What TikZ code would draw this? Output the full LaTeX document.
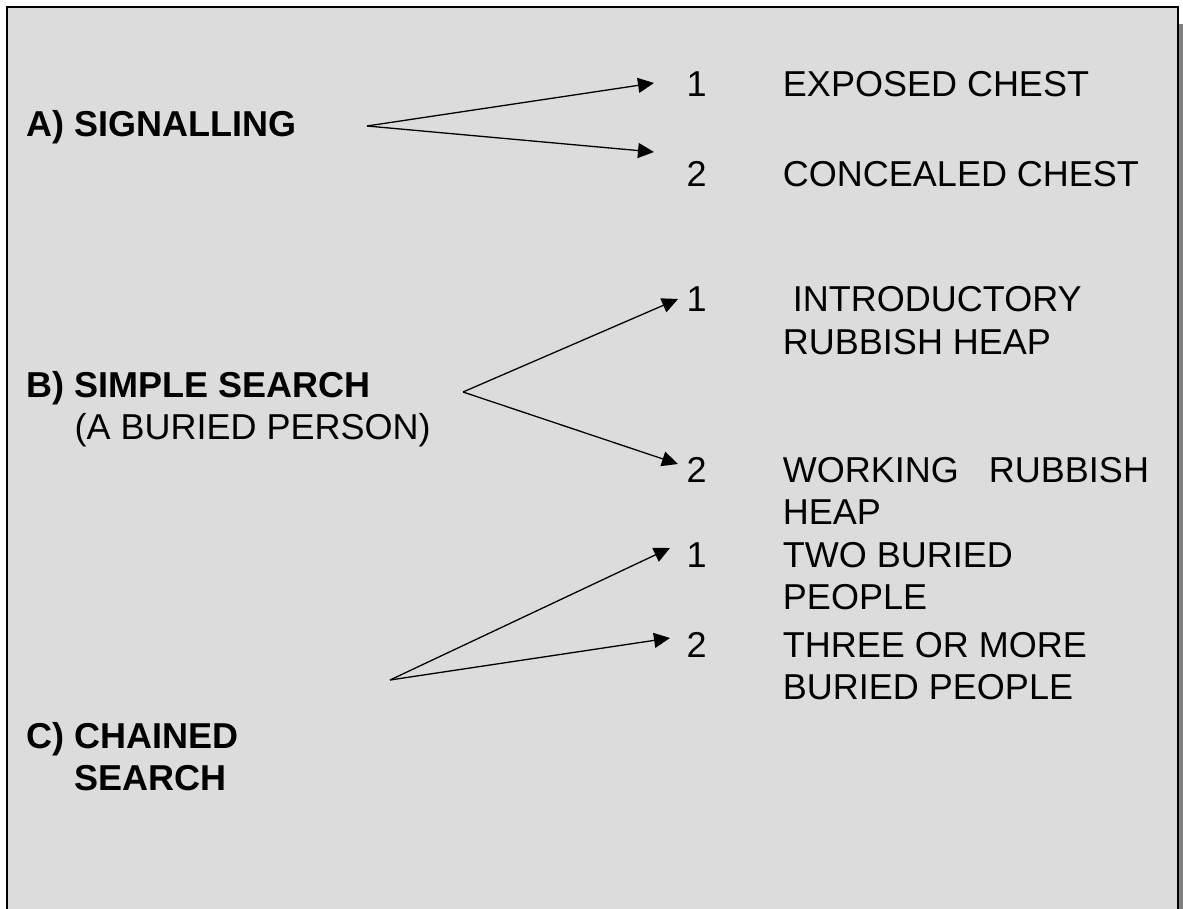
\documentclass[tikz,border=0pt]{standalone}
\usepackage{fontspec}
\setmainfont{Liberation Sans}
\usepackage{xcolor}
\usetikzlibrary{positioning,arrows.meta}
\definecolor{panel}{HTML}{DCDCDC}
\definecolor{shadowgray}{HTML}{808080}

\begin{document}
\begin{tikzpicture}[x=0.5pt,y=-0.5pt,
	every node/.style={inner sep=0pt, font=\fontsize{18}{21}\selectfont},
	group/.style={anchor=base west, align=left, font=\fontsize{18}{21}\selectfont\bfseries},
	num/.style={anchor=base west},
	choice/.style={align=left, anchor=base west},
	>={Triangle[length=8pt,width=7.5pt]}, line width=0.65pt]
	\clip (0,0) rectangle (1183,909);
	% frame with its shadow
	\fill[shadowgray] (12,24) rectangle (1183,930);
	\draw[line width=1pt, fill=panel] (7,7) rectangle (1178,920);

	% A
	\node[group] (Signalling) at (26,137) {A) SIGNALLING};
	\node[num] (NumA1) at (686,97) {1};
	\node[choice, base right=37.5pt of NumA1] (Exposed) {EXPOSED CHEST};
	\node[num] (NumA2) at (686,187) {2};
	\node[choice, base right=37.5pt of NumA2] (Concealed) {CONCEALED CHEST};
	\coordinate (ForkA) at (367,126);
	\coordinate (TipA1) at (654,83);
	\coordinate (TipA2) at (654,152);
	\draw[->] (ForkA) -- (TipA1);
	\draw[->] (ForkA) -- (TipA2);

	% B (base of a two-line node is its last line)
	\node[group] (Simple) at (26,439) {B) SIMPLE SEARCH\\\hspace*{24pt}\mdseries(A BURIED PERSON)};
	\node[num] (NumB1) at (686,312) {1};
	\node[choice] (Intro) at ([xshift=37.5pt,yshift=-21pt]NumB1.base east) {\ INTRODUCTORY\\RUBBISH HEAP};
	\node[num] (NumB2) at (686,482) {2};
	\node[choice] (Working) at ([xshift=37.5pt,yshift=-21pt]NumB2.base east) {WORKING\ \ \ RUBBISH\\HEAP};
	\coordinate (ForkB) at (463,392);
	\coordinate (TipB1) at (678,299);
	\coordinate (TipB2) at (678,464);
	\draw[->] (ForkB) -- (TipB1);
	\draw[->] (ForkB) -- (TipB2);

	% C
	\node[group] (Chained) at (26,790) {C) CHAINED\\\hspace*{24pt}SEARCH};
	\node[num] (NumC1) at (686,567) {1};
	\node[choice] (Two) at ([xshift=37.5pt,yshift=-21pt]NumC1.base east) {TWO BURIED\\PEOPLE};
	\node[num] (NumC2) at (686,657) {2};
	\node[choice] (Three) at ([xshift=37.5pt,yshift=-21pt]NumC2.base east) {THREE OR MORE\\BURIED PEOPLE};
	\coordinate (ForkC) at (390,680);
	\coordinate (TipC1) at (670,548);
	\coordinate (TipC2) at (670,638);
	\draw[->] (ForkC) -- (TipC1);
	\draw[->] (ForkC) -- (TipC2);
\end{tikzpicture}
\end{document}
